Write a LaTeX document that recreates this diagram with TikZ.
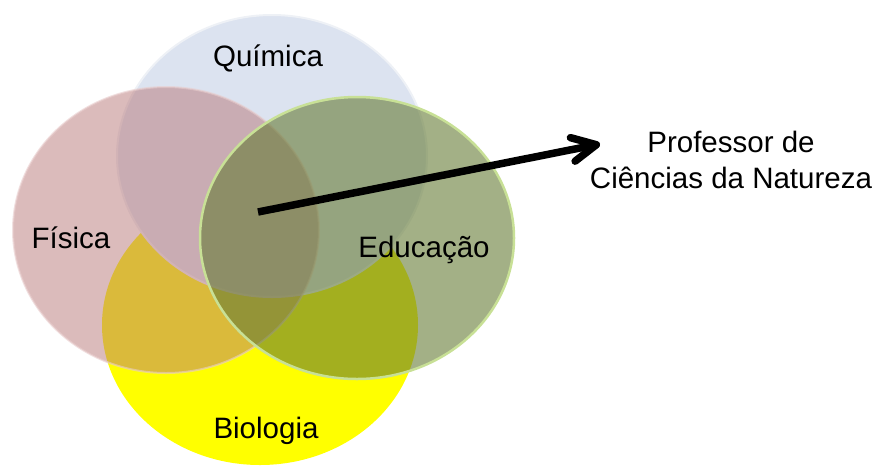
\documentclass[tikz,border=0pt]{standalone}
\usepackage{fontspec}
\setmainfont{Liberation Sans}
\usetikzlibrary{arrows.meta}

\definecolor{quimazul}{RGB}{220,227,240}
\definecolor{quimborda}{RGB}{238,241,246}
\definecolor{fisrosa}{RGB}{183,119,119}
\definecolor{fisborda}{RGB}{232,205,205}
\definecolor{bioamarelo}{RGB}{255,255,0}
\definecolor{eduverde}{RGB}{102,123,53}
\definecolor{eduborda}{RGB}{200,224,150}

\begin{document}
\begin{tikzpicture}[x=1pt,y=-1pt,
  rotulo/.style={font=\fontsize{29.5}{36}\selectfont,anchor=base}]
\useasboundingbox (0,0) rectangle (875,467);
% conjuntos
\fill[bioamarelo] (260,325) ellipse [x radius=158pt,y radius=140pt];
\filldraw[fill=quimazul,draw=quimborda,line width=2pt] (272,156) ellipse [x radius=155pt,y radius=141pt];
\filldraw[fill=fisrosa,fill opacity=.5,draw=fisborda,draw opacity=.6,line width=2pt] (166,230) ellipse [x radius=153pt,y radius=143pt];
\filldraw[fill=eduverde,fill opacity=.6,draw=eduborda,line width=2.5pt] (357,238) ellipse [x radius=157pt,y radius=141pt];
% nomes
\node[rotulo] (quimica) at (268,66) {Química};
\node[rotulo] (fisica) at (71,248) {Física};
\node[rotulo] (educacao) at (424,257) {Educação};
\node[rotulo] (biologia) at (266,438) {Biologia};
\node[rotulo,align=center] (professor) at (731,188) {Professor de\\Ciências da Natureza};
% seta
\coordinate (origem) at (258,212);
\coordinate (ponta) at (600,144);
\draw[line width=7.5pt,-{Straight Barb[length=24pt,width=24pt,round]}] (origem) -- (ponta);
\end{tikzpicture}
\end{document}
